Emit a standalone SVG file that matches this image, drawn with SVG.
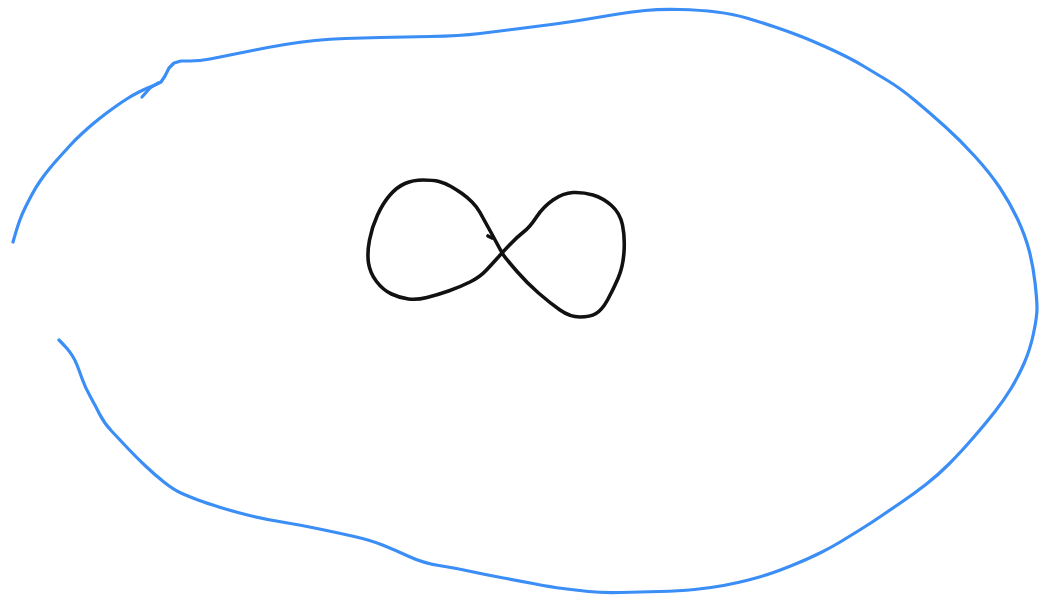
<svg xmlns="http://www.w3.org/2000/svg" width="1040" height="601" viewBox="0 0 1040 601">
<style>
.blue{fill:none;stroke:#3b8ef6;stroke-width:3.2;stroke-linecap:round;stroke-linejoin:round}
.ink{fill:none;stroke:#111;stroke-width:3.6;stroke-linecap:round;stroke-linejoin:round}
</style>
<rect width="1040" height="601" fill="#fff"/>
<g id="outline">
<path class="blue" d="M13,242 Q17,228 19.5,221 Q22,214 25.5,207 Q29,200 32.5,193.5 Q36,187 40.5,180.5 Q45,174 50,168 Q55,162 60,156.5 Q65,151 70,145.5 Q75,140 81.5,134 Q88,128 94,123 Q100,118 106,113.5 Q112,109 117,105.5 Q122,102 127.5,98.5 Q133,95 139,92 Q145,89 150,87 L155,85 L161,82 L165,76 L169,68 L174,63 L181,61 L190,61 Q200,61 210,59 Q220,57 230,55 Q240,53 255,50 Q270,47 285,44.5 Q300,42 315,40.5 Q330,39 345,38.5 Q360,38 380,37.5 Q400,37 430,36.5 Q460,36 480,33.5 Q500,31 520,28.5 Q540,26 555,24 Q570,22 585,19.5 Q600,17 615,14.5 Q630,12 645,10.5 Q660,9 680,9.5 Q700,10 716.5,12 Q733,14 746.5,18 Q760,22 775,27 Q790,32 802.5,37 Q815,42 832.5,50 Q850,58 862.5,65.5 Q875,73 887.5,80.5 Q900,88 915,100.5 Q930,113 945,126.5 Q960,140 975,156.5 Q990,173 1000,188 Q1010,203 1017.5,219 Q1025,235 1029,250 Q1033,265 1035,282.5 Q1037,300 1037,308.5 Q1037,317 1033.5,333.5 Q1030,350 1024,363.5 Q1018,377 1011,388.5 Q1004,400 995,411.5 Q986,423 973,438 Q960,453 949,464 Q938,475 926.5,484 Q915,493 902.5,501.5 Q890,510 880.5,516.5 Q871,523 860.5,529.5 Q850,536 841,541.5 Q832,547 821,552.5 Q810,558 795.5,564 Q781,570 770.5,573.5 Q760,577 748.5,580 Q737,583 723.5,585.5 Q710,588 694.5,589.5 Q679,591 659.5,591.5 Q640,592 621,592.5 Q602,593 588.5,591.5 Q575,590 563,588.5 Q551,587 535.5,584 Q520,581 503.5,578 Q487,575 471,571.5 Q455,568 439,565.5 Q423,563 409,556.5 Q395,550 382.5,545 Q370,540 352,536 Q334,532 317,528.5 Q300,525 282,522 Q264,519 249.5,515.5 Q235,512 220.5,507.5 Q206,503 198,500 Q190,497 182,493.5 Q174,490 164.5,482.5 Q155,475 145.5,466 Q136,457 128,448.5 Q120,440 112,431.5 Q104,423 99.5,414 Q95,405 90,396 Q85,387 82,378.5 Q79,370 77,365 Q75,360 72.5,356 Q70,352 67,348.5 Q64,345 59,340"/>
<path class="blue" d="M158,83 L150,88 L142,97"/>
</g>
<g id="infinity">
<path class="ink" d="M504.5,256.5 Q502,253 497.5,244.5 Q493,236 488,227 Q483,218 480,212.5 Q477,207 472,202 Q467,197 462,193.5 Q457,190 451,186.5 Q445,183 439,181.5 Q433,180 423,180 Q413,180 405,183.5 Q397,187 390,195 Q383,203 377.5,215 Q372,227 369.5,240 Q367,253 368.5,263 Q370,273 376.5,281.5 Q383,290 391.5,294 Q400,298 408.5,299 Q417,300 427,297.5 Q437,295 448.5,291 Q460,287 470,282 Q480,277 486.5,270 Q493,263 497.5,258 Q502,253 509.5,245 Q517,237 523.5,232 Q530,227 536.5,217 Q543,207 553,200 Q563,193 573,192.5 Q583,192 593,195 Q603,198 611.5,205.5 Q620,213 622.5,225 Q625,237 624,252 Q623,267 618,278.5 Q613,290 607.5,300 Q602,310 596,313.5 Q590,317 580,317 Q570,317 560,310 Q550,303 538.5,293 Q527,283 517,271.5 Q507,260 504.5,256.5 Z"/>
<path class="ink" d="M488,236 L492,238"/>
</g>
</svg>
